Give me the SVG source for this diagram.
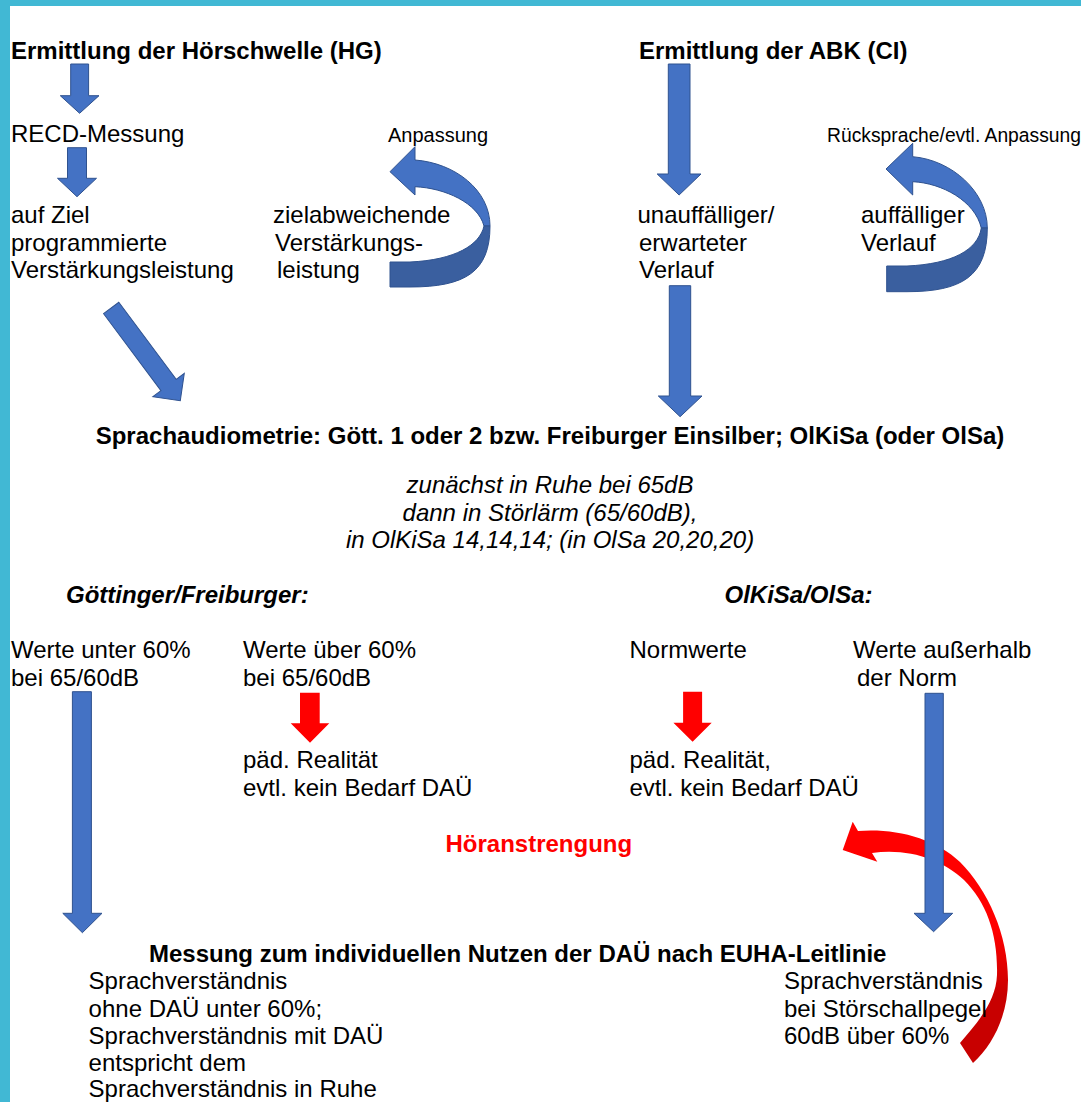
<svg xmlns="http://www.w3.org/2000/svg" width="1081" height="1102" viewBox="0 0 1081 1102">
<defs>
<style>
.t{font-family:"Liberation Sans",Arial,sans-serif;font-size:24px;fill:#000}
.b{font-weight:bold}
.i{font-style:italic}
.s{font-size:20px}
.red{fill:#FF0000}
.ba{fill:#4472C4;stroke:#2F528F;stroke-width:1}
.bd{fill:#3A5F9F;stroke:#2F528F;stroke-width:1}
.ra{fill:#FF0000}
</style>
<linearGradient id="rg" gradientUnits="userSpaceOnUse" x1="0" y1="930" x2="0" y2="995">
<stop offset="0" stop-color="#FF0000"/>
<stop offset="1" stop-color="#C80000"/>
</linearGradient>
</defs>
<rect x="0" y="0" width="1081" height="1102" fill="#FFFFFF"/>
<rect x="0" y="0" width="1081" height="6" fill="#41B8D4"/>
<rect x="0" y="0" width="10" height="1102" fill="#41B8D4"/>

<g id="connectors">
<path id="arrow-hoeranstrengung" fill="url(#rg)" d="M842.7,850 L852.7,821.7 L858,831 C895,828 935,838 960,862 C988,890 1008,935 1008,980 C1008,1015 993,1045 973,1063 L960,1043 C980,1020 996,1000 997,975 C998,935 987,903 964,880 C942,860 910,848 872,853 L877.3,861.7 Z"/>
<polygon class="ba" points="70.7,64 88.6,64 88.6,95.7 99,95.7 79.6,113.3 60.3,95.7 70.7,95.7"/>
<polygon class="ba" points="67.5,147.7 86.5,147.7 86.5,178.3 96.5,178.3 77,196.7 57.5,178.3 67.5,178.3"/>
<polygon class="ba" points="668.3,64 690,64 690,174 701,174 679.1,195 657.2,174 668.3,174"/>
<polygon class="ba" points="669.3,285.7 690.7,285.7 690.7,396 702,396 680.1,416.7 658.3,396 669.3,396"/>
<g transform="translate(111.2,308) rotate(53.3)"><polygon class="ba" points="0,-9.5 96,-9.5 96,-19.6 115.6,0 96,19.6 96,9.5 0,9.5"/></g>
<polygon class="ba" points="72.4,691.7 91.4,691.7 91.4,913.3 102,913.3 82.4,932.7 62.8,913.3 72.4,913.3"/>
<polygon class="ba" points="925,693.3 943.3,693.3 943.3,913.3 952.7,913.3 933.6,931.7 914,913.3 925,913.3"/>
<polygon class="ra" points="300,692.7 319.7,692.7 319.7,723.3 329.3,723.3 310,742.7 290.7,723.3 300,723.3"/>
<polygon class="ra" points="683.1,691.7 702.1,691.7 702.1,722.7 711.7,722.7 692.6,741.7 673.4,722.7 683.1,722.7"/>
<g id="arrow-anpassung">
<path class="ba" d="M415,146.7 L390,171.7 L415,195 L415,186.7 C445,188 478,203 484,226 L490,226 C490,190 455,163 415,160 Z"/>
<path class="bd" d="M490,226 C490,272 465,287 410,287 L390,287 L390,262 L410,262 C455,260 480,245 484,226 Z"/>
</g>
<g id="arrow-ruecksprache">
<path class="ba" d="M912.7,143.3 L886,169 L912.7,195 L912.7,181.7 C942,183 975,201 981.3,228 L987.3,228 C987.3,192 952,160 912.7,156.7 Z"/>
<path class="bd" d="M987.3,228 C987.3,276 962,291.7 907,291.7 L886.7,291.7 L886.7,266 L907,266 C952,264 978,250 981.3,228 Z"/>
</g>
</g>

<g id="node-hg"><text class="t b" x="11" y="59">Ermittlung der Hörschwelle (HG)</text></g>
<g id="node-ci"><text class="t b" x="639" y="59">Ermittlung der ABK (CI)</text></g>
<g id="node-recd"><text class="t" x="11" y="142">RECD-Messung</text></g>
<g id="label-anpassung"><text class="t s" x="388" y="142">Anpassung</text></g>
<g id="label-ruecksprache"><text class="t" x="827" y="142" style="font-size:19.3px">Rücksprache/evtl. Anpassung</text></g>
<g id="node-ziel"><text class="t" x="11" y="223">auf Ziel</text><text class="t" x="11" y="251">programmierte</text><text class="t" x="11" y="278">Verstärkungsleistung</text></g>
<g id="node-zielabw"><text class="t" x="273" y="223">zielabweichende</text><text class="t" x="275" y="251">Verstärkungs-</text><text class="t" x="277" y="278">leistung</text></g>
<g id="node-unauff"><text class="t" x="637.5" y="223">unauffälliger/</text><text class="t" x="639" y="251">erwarteter</text><text class="t" x="639" y="278">Verlauf</text></g>
<g id="node-auff"><text class="t" x="861" y="223">auffälliger</text><text class="t" x="861" y="251">Verlauf</text></g>
<g id="node-sprachaudio"><text class="t b" x="550" y="444" text-anchor="middle">Sprachaudiometrie: Gött. 1 oder 2 bzw. Freiburger Einsilber; OlKiSa (oder OlSa)</text>
<text class="t i" x="550" y="492.5" text-anchor="middle">zunächst in Ruhe bei 65dB</text>
<text class="t i" x="550" y="520.5" text-anchor="middle">dann in Störlärm (65/60dB),</text>
<text class="t i" x="550" y="548" text-anchor="middle">in OlKiSa 14,14,14; (in OlSa 20,20,20)</text></g>
<g id="label-goettinger"><text class="t b i" x="66" y="602.5">Göttinger/Freiburger:</text></g>
<g id="label-olkisa"><text class="t b i" x="724.5" y="602.5">OlKiSa/OlSa:</text></g>
<g id="node-unter60"><text class="t" x="11" y="658">Werte unter 60%</text><text class="t" x="11" y="686">bei 65/60dB</text></g>
<g id="node-ueber60"><text class="t" x="243" y="658">Werte über 60%</text><text class="t" x="243" y="686">bei 65/60dB</text></g>
<g id="node-normwerte"><text class="t" x="629.5" y="658">Normwerte</text></g>
<g id="node-ausserhalb"><text class="t" x="853" y="658">Werte außerhalb</text><text class="t" x="857" y="686">der Norm</text></g>
<g id="node-paed1"><text class="t" x="243" y="768">päd. Realität</text><text class="t" x="243" y="796">evtl. kein Bedarf DAÜ</text></g>
<g id="node-paed2"><text class="t" x="629.5" y="768">päd. Realität,</text><text class="t" x="629.5" y="796">evtl. kein Bedarf DAÜ</text></g>
<g id="label-hoeranstrengung"><text class="t b red" x="445.5" y="852">Höranstrengung</text></g>
<g id="node-messung"><text class="t b" x="149" y="962">Messung zum individuellen Nutzen der DAÜ nach EUHA-Leitlinie</text></g>
<g id="node-links"><text class="t" x="88.6" y="989">Sprachverständnis</text><text class="t" x="88.6" y="1016.5">ohne DAÜ unter 60%;</text><text class="t" x="88.6" y="1043.5">Sprachverständnis mit DAÜ</text><text class="t" x="88.6" y="1070.5">entspricht dem</text><text class="t" x="88.6" y="1096.5">Sprachverständnis in Ruhe</text></g>
<g id="node-rechts"><text class="t" x="784" y="989">Sprachverständnis</text><text class="t" x="784" y="1017">bei Störschallpegel</text><text class="t" x="784" y="1044">60dB über 60%</text></g>
</svg>
